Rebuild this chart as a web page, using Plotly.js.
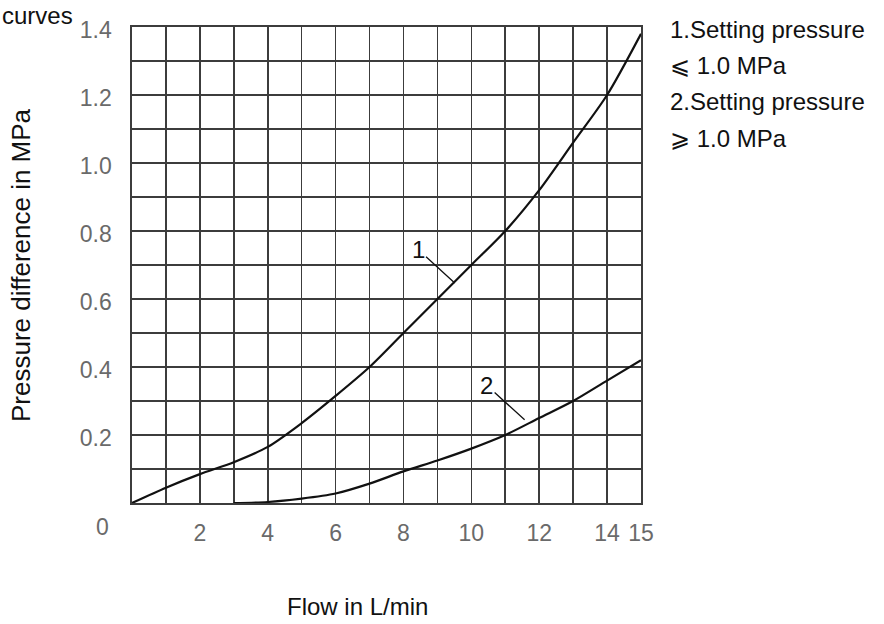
<!DOCTYPE html>
<html>
<head>
<meta charset="utf-8">
<script src="https://cdn.plot.ly/plotly-3.0.1.min.js"></script>
<style>html,body{margin:0;padding:0;background:#fff;}#chart{width:884px;height:624px;}</style>
</head>
<body>
<div id="chart"></div>
<script>
// Curve 1: setting pressure <= 1.0 MPa
const flow1 = [0, 1, 2, 3, 4, 5, 6, 7, 8, 9, 10, 11, 12, 13, 14, 15];
const dp1 = [0, 0.045, 0.085, 0.12, 0.165, 0.235, 0.315, 0.40, 0.50, 0.60, 0.70, 0.80, 0.92, 1.06, 1.20, 1.38];
// Curve 2: setting pressure >= 1.0 MPa
const flow2 = [3, 4, 5, 6, 7, 8, 9, 10, 11, 12, 13, 14, 15];
const dp2 = [0, 0.003, 0.013, 0.028, 0.057, 0.093, 0.125, 0.16, 0.20, 0.25, 0.30, 0.36, 0.42];

const xGridVals = [0, 1, 2, 3, 4, 5, 6, 7, 8, 9, 10, 11, 12, 13, 14, 15];
const xTickText = ['', '', '2', '', '4', '', '6', '', '8', '', '10', '', '12', '', '14', '15'];
const yGridVals = [0, 0.1, 0.2, 0.3, 0.4, 0.5, 0.6, 0.7, 0.8, 0.9, 1.0, 1.1, 1.2, 1.3, 1.4];
const yTickText = ['', '', '0.2', '', '0.4', '', '0.6', '', '0.8', '', '1.0', '', '1.2', '', '1.4'];

const legendLines = ['1.Setting pressure', '\u2A7D 1.0 MPa', '2.Setting pressure', '\u2A7E 1.0 MPa'];
const curveLabels = ['1', '2'];

const gridColor = '#3c3c3c';
const tickFont = {family: 'Liberation Sans, Arial, sans-serif', size: 23, color: '#6a6a6a'};
const textFont = {family: 'Liberation Sans, Arial, sans-serif', size: 24, color: '#111'};
const yTitleFont = {family: 'Liberation Sans, Arial, sans-serif', size: 26, color: '#111'};

const traces = [
  {x: flow1, y: dp1, mode: 'lines', line: {color: '#111', width: 2.2, shape: 'spline', smoothing: 0.8}, showlegend: false, hoverinfo: 'skip'},
  {x: flow2, y: dp2, mode: 'lines', line: {color: '#111', width: 2.2, shape: 'spline', smoothing: 0.8}, showlegend: false, hoverinfo: 'skip'}
];

const legendY = [0.994, 0.920, 0.843, 0.765];
const annotations = [];
legendLines.forEach((t, i) => {
  annotations.push({text: t, xref: 'paper', yref: 'paper', x: 1.053, y: legendY[i], xanchor: 'left', yanchor: 'middle', showarrow: false, font: textFont});
});
annotations.push({text: 'curves', xref: 'paper', yref: 'paper', x: -0.259, y: 1.0567, xanchor: 'left', yanchor: 'top', showarrow: false, font: textFont});
annotations.push({text: 'Pressure difference in MPa', xref: 'paper', yref: 'paper', x: -0.218, y: 0.50, textangle: -90, xanchor: 'center', yanchor: 'middle', showarrow: false, font: yTitleFont});
annotations.push({text: 'Flow in L/min', xref: 'paper', yref: 'paper', x: 0.444, y: -0.218, xanchor: 'center', yanchor: 'middle', showarrow: false, font: textFont});
annotations.push({text: '0', xref: 'paper', yref: 'paper', x: -0.057, y: -0.050, xanchor: 'center', yanchor: 'middle', showarrow: false, font: tickFont});
// curve labels with leader lines
annotations.push({text: curveLabels[0], x: 9.51, y: 0.647, xref: 'x', yref: 'y', ax: 8.43, ay: 0.746, axref: 'x', ayref: 'y', showarrow: true, arrowhead: 0, arrowwidth: 1.3, arrowcolor: '#111', standoff: 0, font: textFont});
annotations.push({text: curveLabels[1], x: 11.57, y: 0.245, xref: 'x', yref: 'y', ax: 10.45, ay: 0.346, axref: 'x', ayref: 'y', showarrow: true, arrowhead: 0, arrowwidth: 1.3, arrowcolor: '#111', standoff: 0, font: textFont});

const layout = {
  width: 884, height: 624,
  margin: {l: 132, r: 243, t: 27, b: 121, pad: 0},
  paper_bgcolor: '#fff', plot_bgcolor: '#fff',
  showlegend: false,
  xaxis: {
    range: [0, 15], tickmode: 'array', tickvals: xGridVals, ticktext: xTickText,
    showgrid: true, gridcolor: gridColor, gridwidth: 1.6, zeroline: false,
    showline: true, linecolor: gridColor, linewidth: 1.6, mirror: true,
    ticks: '', tickfont: tickFont, ticklabelstandoff: 9, fixedrange: true
  },
  yaxis: {
    range: [0, 1.4], tickmode: 'array', tickvals: yGridVals, ticktext: yTickText,
    showgrid: true, gridcolor: gridColor, gridwidth: 1.6, zeroline: false,
    showline: true, linecolor: gridColor, linewidth: 1.6, mirror: true,
    ticks: '', tickfont: tickFont, ticklabelstandoff: 14, ticklabelshift: 3, fixedrange: true
  },
  annotations: annotations
};

Plotly.newPlot('chart', traces, layout, {displayModeBar: false, staticPlot: true});
</script>
</body>
</html>
